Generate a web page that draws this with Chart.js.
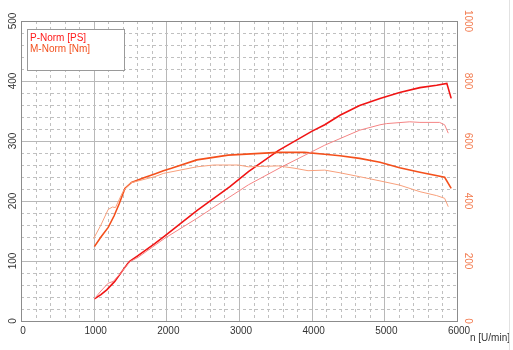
<!DOCTYPE html>
<html>
<head>
<meta charset="utf-8">
<script src="https://cdn.jsdelivr.net/npm/chart.js@4"></script>
<style>
  html, body { margin: 0; padding: 0; background: #fff; }
  #wrap { width: 513px; height: 350px; }
</style>
</head>
<body>
<div id="wrap"><canvas id="motorChart" width="513" height="350"></canvas></div>
<script>
// P-Norm (power, PS) - thick line
const pNormRpm = [1010, 1100, 1180, 1290, 1380, 1470, 1500, 1610, 1840, 1980, 2420, 2875, 3130, 3540, 4000, 4180, 4390, 4660, 4940, 5210, 5490, 5720, 5860, 5920];
const pNormPS  = [37, 44, 52, 66, 81, 96, 100, 109, 129, 142, 184, 224, 249, 284, 316, 327, 343, 359, 371, 381, 389, 393, 396, 371];

// power, thin line
const pMeasRpm = [1010, 1100, 1200, 1270, 1380, 1500, 1610, 1980, 2420, 2875, 3130, 3590, 4180, 4390, 4660, 4940, 5030, 5350, 5490, 5760, 5830, 5880];
const pMeasPS  = [37, 50, 63, 66, 81, 99, 106, 138, 171, 207, 227, 257, 293, 304, 318, 327, 329, 332, 331, 331, 327, 313];

// M-Norm (torque, Nm) - thick line
const mNormRpm = [1010, 1100, 1200, 1280, 1350, 1430, 1520, 1700, 1840, 1960, 2070, 2420, 2850, 3540, 3900, 4180, 4390, 4660, 4940, 5210, 5490, 5830, 5920];
const mNormNm  = [248, 280, 312, 350, 390, 442, 462, 478, 490, 501, 509, 537, 553, 562, 562, 556, 551, 542, 529, 511, 496, 479, 442];

// torque, thin line
const mMeasRpm = [1000, 1100, 1200, 1260, 1300, 1400, 1500, 1840, 1960, 2420, 2650, 2990, 3130, 3540, 3770, 3950, 4180, 4390, 4660, 4940, 5210, 5490, 5720, 5830, 5880];
const mMeasNm  = [275, 320, 372, 380, 378, 430, 460, 481, 492, 514, 520, 520, 514, 517, 509, 501, 503, 494, 481, 467, 453, 431, 418, 409, 381];

const xTicks = [0, 1000, 2000, 3000, 4000, 5000, 6000];
const psTicks = [0, 100, 200, 300, 400, 500];
const nmTicks = [0, 200, 400, 600, 800, 1000];
const legendLabels = ['P-Norm [PS]', 'M-Norm [Nm]'];
const xTitle = 'n [U/min]';

const FONT = "10px 'Liberation Sans', Arial, sans-serif";

function toPoints(xs, ys) {
    return xs.map((x, i) => ({ x: x, y: ys[i] }));
}

function line(ctx, x1, y1, x2, y2) {
    ctx.beginPath();
    ctx.moveTo(x1, y1);
    ctx.lineTo(x2, y2);
    ctx.stroke();
}

// grid lines, every 200 rpm / 20 PS dashed, every 1000 rpm / 100 PS solid
const gridPlugin = {
    id: 'grid',
    beforeDatasetsDraw(chart) {
        const ctx = chart.ctx;
        const a = chart.chartArea;
        const xs = chart.scales.x;
        const ys = chart.scales.y;
        ctx.save();
        ctx.lineWidth = 1;
        for (let v = 0; v <= 6000; v += 200) {
            const px = Math.round(xs.getPixelForValue(v)) + 0.5;
            if (v % 1000 === 0) { ctx.setLineDash([]); ctx.strokeStyle = '#b8b8b8'; }
            else { ctx.setLineDash([3, 3]); ctx.strokeStyle = '#c0c0c0'; }
            line(ctx, px, a.top, px, a.bottom);
        }
        for (let v = 0; v <= 500; v += 20) {
            const py = Math.round(ys.getPixelForValue(v)) + 0.5;
            if (v % 100 === 0) { ctx.setLineDash([]); ctx.strokeStyle = '#b8b8b8'; }
            else { ctx.setLineDash([3, 3]); ctx.strokeStyle = '#c0c0c0'; }
            line(ctx, a.left, py, a.right, py);
        }
        ctx.setLineDash([]);
        ctx.strokeStyle = '#8c8c8c';
        ctx.strokeRect(Math.round(a.left) + 0.5, Math.round(a.top) + 0.5,
            Math.round(a.right - a.left), Math.round(a.bottom - a.top));
        ctx.restore();
    },
    afterDatasetsDraw(chart) {
        const ctx = chart.ctx;
        const a = chart.chartArea;
        const xs = chart.scales.x;
        const ys = chart.scales.y;
        const ys1 = chart.scales.y1;
        ctx.save();
        ctx.font = FONT;
        ctx.textBaseline = 'middle';

        // x labels
        ctx.fillStyle = '#333';
        ctx.textAlign = 'center';
        xTicks.forEach(v => {
            ctx.fillText(String(v), xs.getPixelForValue(v) + 2, a.bottom + 10);
        });
        ctx.textAlign = 'left';
        ctx.fillText(xTitle, a.right + 13, a.bottom + 17);

        // left labels, rotated
        psTicks.forEach(v => {
            ctx.save();
            ctx.translate(13, ys.getPixelForValue(v));
            ctx.rotate(-Math.PI / 2);
            ctx.textAlign = 'center';
            ctx.fillStyle = '#333';
            ctx.fillText(String(v), 0, 0);
            ctx.restore();
        });

        // right labels, rotated the other way
        nmTicks.forEach(v => {
            ctx.save();
            ctx.translate(a.right + 11, ys1.getPixelForValue(v));
            ctx.rotate(Math.PI / 2);
            ctx.textAlign = 'center';
            ctx.fillStyle = '#f27a4e';
            ctx.fillText(String(v), 0, 0);
            ctx.restore();
        });

        // legend box
        ctx.fillStyle = '#fff';
        ctx.fillRect(27, 29, 97, 41);
        ctx.strokeStyle = '#9a9a9a';
        ctx.lineWidth = 1;
        ctx.strokeRect(27.5, 29.5, 97, 41);
        ctx.textAlign = 'left';
        ctx.fillStyle = '#ff1a1a';
        ctx.fillText(legendLabels[0], 30, 38);
        ctx.fillStyle = '#f2501e';
        ctx.fillText(legendLabels[1], 30, 49);

        // page edge
        ctx.strokeStyle = '#e2e2e2';
        line(ctx, 509.5, 0, 509.5, 350);
        ctx.restore();
    }
};

const ctx = document.getElementById('motorChart').getContext('2d');
new Chart(ctx, {
    type: 'line',
    data: {
        datasets: [
            { label: 'P thin', data: toPoints(pMeasRpm, pMeasPS), yAxisID: 'y', borderColor: '#f58484', borderWidth: 1 },
            { label: 'M thin', data: toPoints(mMeasRpm, mMeasNm), yAxisID: 'y1', borderColor: '#f8a07c', borderWidth: 1 },
            { label: legendLabels[1], data: toPoints(mNormRpm, mNormNm), yAxisID: 'y1', borderColor: '#f4501c', borderWidth: 1.6 },
            { label: legendLabels[0], data: toPoints(pNormRpm, pNormPS), yAxisID: 'y', borderColor: '#f01414', borderWidth: 1.6 }
        ]
    },
    options: {
        responsive: false,
        animation: false,
        elements: { point: { radius: 0 }, line: { tension: 0, fill: false } },
        layout: { padding: { top: 21, left: 0, right: 0, bottom: 0 } },
        plugins: { legend: { display: false }, tooltip: { enabled: false } },
        scales: {
            x: {
                type: 'linear', min: 0, max: 6000,
                ticks: { display: false }, grid: { display: false }, border: { display: false },
                afterFit(scale) { scale.height = 29; }
            },
            y: {
                position: 'left', min: 0, max: 500,
                ticks: { display: false }, grid: { display: false }, border: { display: false },
                afterFit(scale) { scale.width = 21; }
            },
            y1: {
                position: 'right', min: 0, max: 1000,
                ticks: { display: false }, grid: { display: false }, border: { display: false },
                afterFit(scale) { scale.width = 56; }
            }
        }
    },
    plugins: [gridPlugin]
});
</script>
</body>
</html>
